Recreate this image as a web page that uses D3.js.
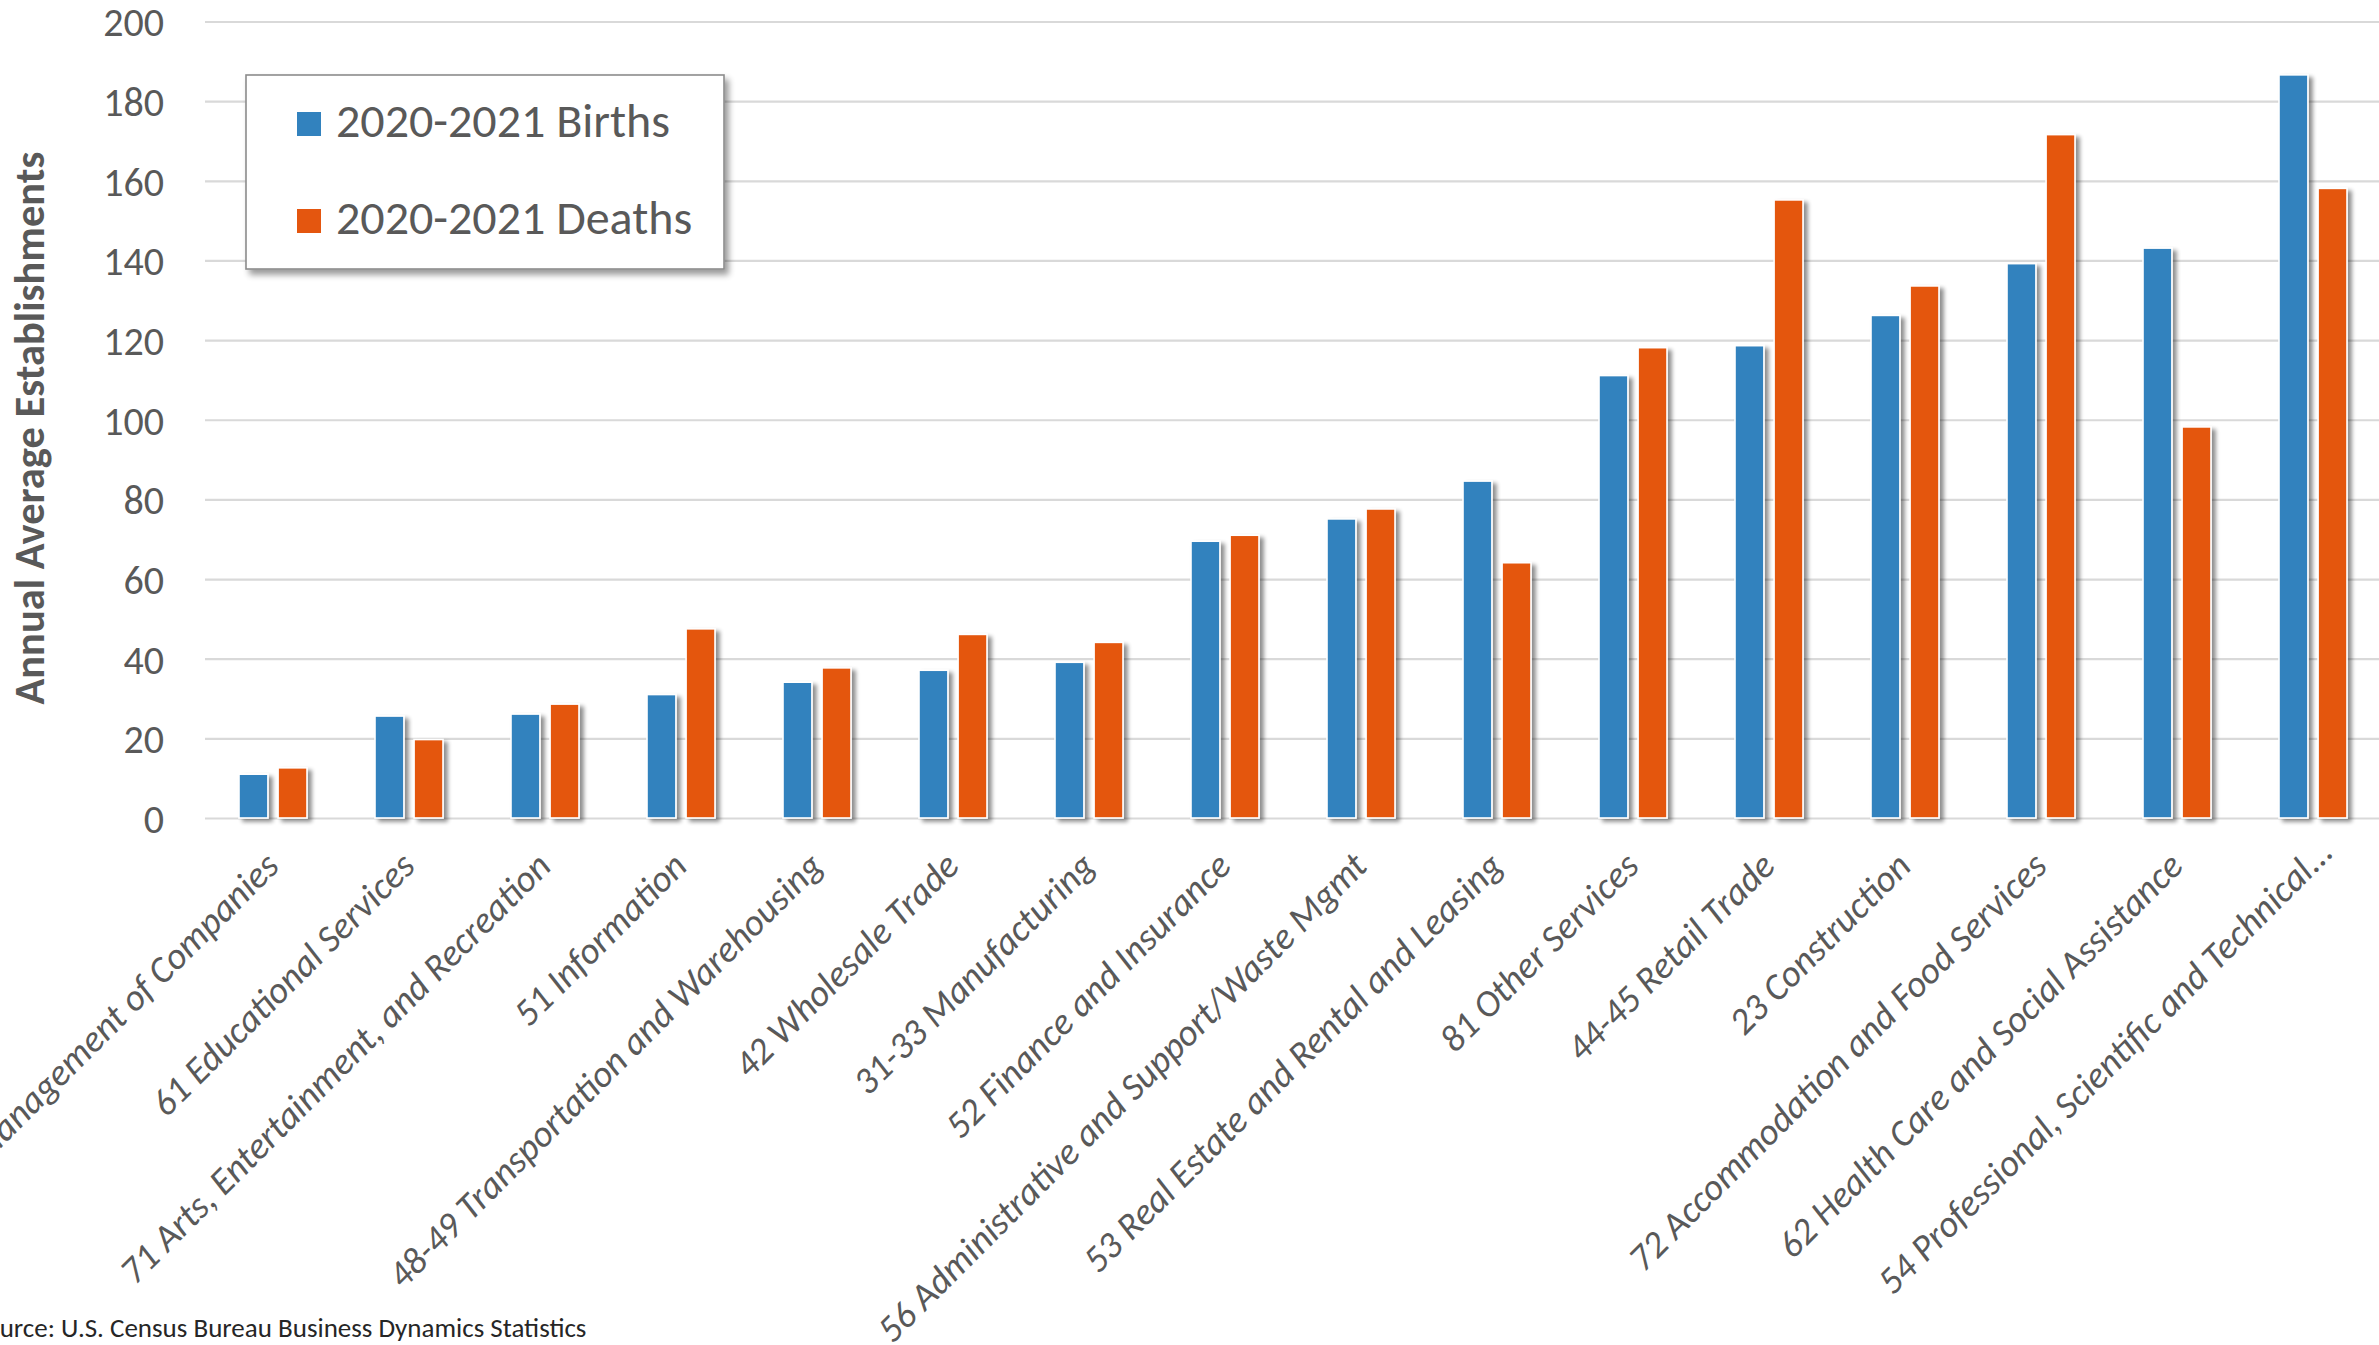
<!DOCTYPE html>
<html>
<head>
<meta charset="utf-8">
<script src="https://cdn.jsdelivr.net/npm/d3@7"></script>
<style>
  html, body { margin: 0; padding: 0; background: #ffffff; overflow: hidden; }
  svg { display: block; }
  text { font-family: Calibri, Carlito, Lato, "Open Sans", sans-serif; }
</style>
</head>
<body>
<svg id="chart" width="2379" height="1345"></svg>
<script>
// Industry sectors (NAICS), ordered by 2020-2021 births
const industries = [
  "55 Management of Companies",
  "61 Educational Services",
  "71 Arts, Entertainment, and Recreation",
  "51 Information",
  "48-49 Transportation and Warehousing",
  "42 Wholesale Trade",
  "31-33 Manufacturing",
  "52 Finance and Insurance",
  "56 Administrative and Support/Waste Mgmt",
  "53 Real Estate and Rental and Leasing",
  "81 Other Services",
  "44-45 Retail Trade",
  "23 Construction",
  "72 Accommodation and Food Services",
  "62 Health Care and Social Assistance",
  "54 Professional, Scientific and Technical..."
];

// Annual average establishments
const births = [11.0, 25.6, 26.1, 31.0, 34.1, 37.1, 39.1, 69.5, 75.1, 84.6, 111.1, 118.6, 126.2, 139.2, 143.1, 186.6];
const deaths = [12.6, 19.7, 28.6, 47.5, 37.7, 46.1, 44.1, 71.0, 77.6, 64.1, 118.1, 155.2, 133.6, 171.6, 98.2, 158.1];

const seriesNames = ["2020-2021 Births", "2020-2021 Deaths"];
const seriesColors = ["#3282be", "#e4560f"];
const yTickValues = [0, 20, 40, 60, 80, 100, 120, 140, 160, 180, 200];
const yAxisTitle = "Annual Average Establishments";
const sourceNote = "Source: U.S. Census Bureau Business Dynamics Statistics";

const svg = d3.select("#chart");
const plot = { left: 205, right: 2381, top: 21.5, bottom: 818 };

// Soft drop shadow used on bars and the legend box
const defs = svg.append("defs");
const shadow = defs.append("filter").attr("id", "shadow")
  .attr("x", "-30%").attr("y", "-10%").attr("width", "170%").attr("height", "130%");
shadow.append("feGaussianBlur").attr("in", "SourceAlpha").attr("stdDeviation", 2.2).attr("result", "blur");
shadow.append("feOffset").attr("in", "blur").attr("dx", 4).attr("dy", 3).attr("result", "off");
shadow.append("feComponentTransfer").attr("in", "off").attr("result", "soft")
  .append("feFuncA").attr("type", "linear").attr("slope", 0.45);
const merge = shadow.append("feMerge");
merge.append("feMergeNode").attr("in", "soft");
merge.append("feMergeNode").attr("in", "SourceGraphic");

const boxShadow = defs.append("filter").attr("id", "boxShadow")
  .attr("x", "-10%").attr("y", "-10%").attr("width", "125%").attr("height", "130%");
boxShadow.append("feGaussianBlur").attr("in", "SourceAlpha").attr("stdDeviation", 3).attr("result", "blur");
boxShadow.append("feOffset").attr("in", "blur").attr("dx", 4).attr("dy", 5).attr("result", "off");
boxShadow.append("feComponentTransfer").attr("in", "off").attr("result", "soft")
  .append("feFuncA").attr("type", "linear").attr("slope", 0.4);
const merge2 = boxShadow.append("feMerge");
merge2.append("feMergeNode").attr("in", "soft");
merge2.append("feMergeNode").attr("in", "SourceGraphic");

// Scales
const x0 = d3.scaleBand()
  .domain(industries)
  .range([plot.left, plot.right])
  .paddingInner(0.5)
  .paddingOuter(0.25);

const x1 = d3.scaleBand()
  .domain(seriesNames)
  .range([0, x0.bandwidth()])
  .paddingInner(0.26);

const y = d3.scaleLinear().domain([0, 200]).range([plot.bottom, plot.top]);

// Y axis with horizontal gridlines
const yAxis = svg.append("g")
  .attr("transform", `translate(${plot.left},0)`)
  .call(d3.axisLeft(y)
    .tickValues(yTickValues)
    .tickSize(-(plot.right - plot.left))
    .tickPadding(41));
yAxis.select(".domain").remove();
yAxis.selectAll(".tick line").attr("stroke", "#d9d9d9").attr("stroke-width", 2.2);
yAxis.selectAll(".tick text")
  .attr("fill", "#595959")
  .style("font-size", "40px")
  .attr("dy", "0.36em");

// Bars
const table = industries.map((name, i) => ({ name, values: [births[i], deaths[i]] }));

const groups = svg.append("g").selectAll("g")
  .data(table)
  .join("g")
  .attr("transform", d => `translate(${x0(d.name)},0)`);

groups.selectAll("rect")
  .data(d => d.values.map((v, k) => ({ series: seriesNames[k], value: v, color: seriesColors[k] })))
  .join("rect")
  .attr("x", d => x1(d.series))
  .attr("y", d => y(d.value))
  .attr("width", x1.bandwidth())
  .attr("height", d => y(0) - y(d.value))
  .attr("fill", d => d.color)
  .attr("stroke", "#ffffff")
  .attr("stroke-width", 1.6)
  .attr("filter", "url(#shadow)");

// Category axis with rotated italic labels; a truncated name sits a little further right
const xAxis = svg.append("g")
  .attr("transform", `translate(0,${plot.bottom})`)
  .call(d3.axisBottom(x0).tickSize(0));
xAxis.select(".domain").remove();
xAxis.selectAll(".tick text")
  .attr("x", 0).attr("y", 0).attr("dy", 0)
  .attr("text-anchor", "end")
  .attr("transform", d => d.endsWith("...") ? "translate(22,36) rotate(-45)" : "translate(8,50) rotate(-45)")
  .attr("fill", "#595959")
  .style("font-size", "37.5px")
  .style("font-style", "italic");

// Y-axis title
svg.append("text")
  .attr("transform", "translate(44,428) rotate(-90)")
  .attr("text-anchor", "middle")
  .attr("fill", "#595959")
  .style("font-size", "42.5px")
  .style("font-weight", "700")
  .text(yAxisTitle);

// Legend
const legend = svg.append("g").attr("transform", "translate(246,75)");
legend.append("rect")
  .attr("width", 478).attr("height", 194)
  .attr("fill", "#ffffff")
  .attr("stroke", "#8c8c8c")
  .attr("stroke-width", 1.6)
  .attr("filter", "url(#boxShadow)");
const items = legend.selectAll("g.item")
  .data(seriesNames)
  .join("g")
  .attr("class", "item")
  .attr("transform", (d, i) => `translate(51,${37 + i * 97})`);
items.append("rect")
  .attr("width", 24).attr("height", 24)
  .attr("fill", (d, i) => seriesColors[i]);
items.append("text")
  .attr("x", 39).attr("y", 25)
  .attr("fill", "#595959")
  .style("font-size", "48px")
  .text(d => d);

// Source note
svg.append("text")
  .attr("x", -27).attr("y", 1337)
  .attr("fill", "#262626")
  .style("font-size", "27px")
  .text(sourceNote);
</script>
</body>
</html>
